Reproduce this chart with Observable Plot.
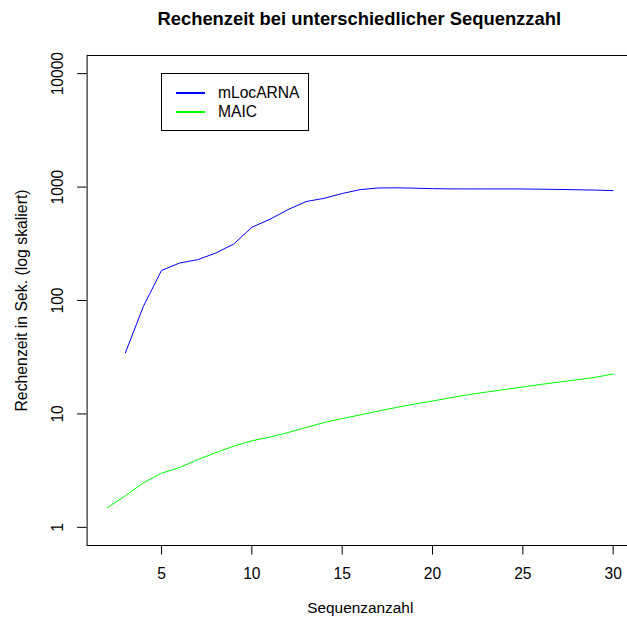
<!DOCTYPE html>
<html><head><meta charset="utf-8">
<script src="https://cdn.jsdelivr.net/npm/d3@7"></script>
<script src="https://cdn.jsdelivr.net/npm/@observablehq/plot@0.6"></script>
<style>
body{margin:0;background:#fff;font-family:"Liberation Sans",Arial,sans-serif;}
#wrap{position:relative;width:627px;height:623px;overflow:hidden;}
#wrap svg{max-width:none !important;display:block;}
#legend{position:absolute;left:161px;top:73px;width:146px;height:56px;border:1px solid #000;background:#fff;font-size:15.6px;}
.row{position:absolute;left:0;height:18px;line-height:18px;}
.row span.l{position:absolute;left:14px;top:8px;width:29px;height:0;border-top:2px solid;}
.row span.t{position:absolute;left:56px;top:0;white-space:nowrap;}
</style></head>
<body><div id="wrap"></div>
<script>
const title = "Rechenzeit bei unterschiedlicher Sequenzzahl";
const xLabel = "Sequenzanzahl";
const yLabel = "Rechenzeit in Sek. (log skaliert)";
const seriesNames = ["mLocARNA", "MAIC"];
const seriesColors = ["#0000ff", "#00ff00"];
const xTicks = [5, 10, 15, 20, 25, 30];
const yTicks = [1, 10, 100, 1000, 10000];

const mlocX = [3,4,5,6,7,8,9,10,11,12,13,14,15,16,17,18,19,20,21,22,23,24,25,26,27,28,29,30];
const mlocY = [34.6,89,184,214,229,262,315,442,520,633,745,796,877,950,982,985,978,968,964,963,963,963,962,958,953,947,940,931];
const maicX = [2,3,4,5,6,7,8,9,10,11,12,13,14,15,16,17,18,19,20,21,22,23,24,25,26,27,28,29,30];
const maicY = [1.49,1.9,2.47,3.0,3.37,3.95,4.55,5.2,5.8,6.25,6.85,7.6,8.4,9.1,9.8,10.6,11.4,12.2,13.0,13.9,14.8,15.6,16.4,17.3,18.2,19.1,20.0,21.0,22.5];

const mloc = mlocX.map((x, i) => ({x, y: mlocY[i]}));
const maic = maicX.map((x, i) => ({x, y: maicY[i]}));

const font = "Liberation Sans, Arial, sans-serif";
const chart = Plot.plot({
  width: 640, height: 623,
  marginLeft: 86.6, marginRight: 7.1, marginTop: 55, marginBottom: 78,
  style: {fontFamily: font, background: "#fff", overflow: "visible", maxWidth: "none"},
  x: {type: "linear", domain: [0.88, 31.12]},
  y: {type: "log", domain: [Math.pow(10, -0.16), Math.pow(10, 4.16)]},
  marks: [
    Plot.frame({stroke: "#000", strokeWidth: 1}),
    Plot.axisX({ticks: xTicks, tickSize: 9.5, tickFormat: () => "", label: null, stroke: "#000"}),
    Plot.axisY({ticks: yTicks, tickSize: 9.5, tickFormat: () => "", label: null, stroke: "#000"}),
    Plot.text(xTicks, {x: d => d, text: d => String(d), frameAnchor: "bottom", dy: 28, lineAnchor: "middle", fontSize: 15.6, fill: "#000"}),
    Plot.text(yTicks, {y: d => d, text: d => String(d), frameAnchor: "left", dx: -29, rotate: -90, lineAnchor: "middle", textAnchor: "middle", fontSize: 15.6, fill: "#000"}),
    Plot.line(mloc, {x: "x", y: "y", stroke: seriesColors[0], strokeWidth: 1}),
    Plot.line(maic, {x: "x", y: "y", stroke: seriesColors[1], strokeWidth: 1}),
    Plot.text([title], {text: d => d, frameAnchor: "top", dx: -1, dy: -36, lineAnchor: "middle", fontSize: 18.4, fontWeight: "bold", fill: "#000"}),
    Plot.text([xLabel], {text: d => d, frameAnchor: "bottom", dy: 63, lineAnchor: "middle", fontSize: 15.4, fill: "#000"}),
    Plot.text([yLabel], {text: d => d, frameAnchor: "left", dx: -65.5, rotate: -90, lineAnchor: "middle", textAnchor: "middle", fontSize: 15.8, fill: "#000"})
  ]
});
const wrap = document.getElementById("wrap");
wrap.appendChild(chart);
const leg = document.createElement("div");
leg.id = "legend";
seriesNames.forEach((n, i) => {
  const r = document.createElement("div");
  r.className = "row";
  r.style.top = (10 + i * 18.7) + "px";
  r.innerHTML = `<span class="l" style="border-color:${seriesColors[i]}"></span><span class="t">${n}</span>`;
  leg.appendChild(r);
});
wrap.appendChild(leg);
</script></body></html>
